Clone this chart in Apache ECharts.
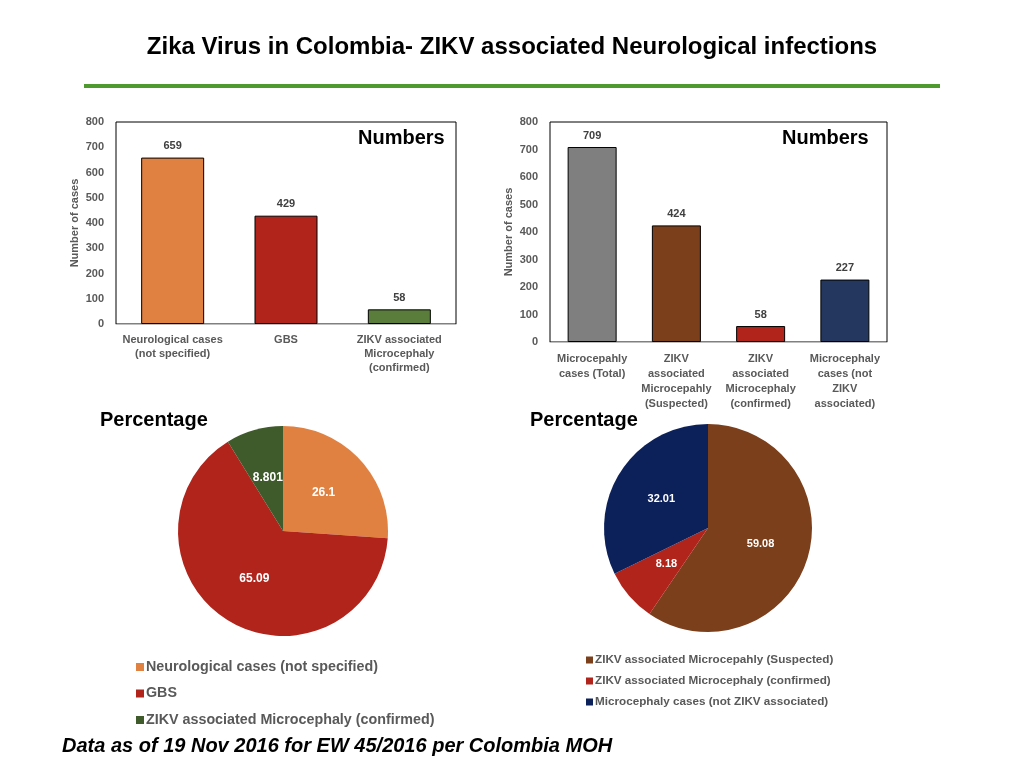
<!DOCTYPE html>
<html>
<head>
<meta charset="utf-8">
<script src="https://cdn.jsdelivr.net/npm/echarts@6/dist/echarts.min.js"></script>
<style>
html, body { margin: 0; padding: 0; background: #fff; }
#main { width: 1024px; height: 768px; }
</style>
</head>
<body>
<div id="main"></div>
<script>
// neurological chart (left)
var neuroCats = ['Neurological cases\n(not specified)', 'GBS', 'ZIKV associated\nMicrocephaly\n(confirmed)'];
var neuroCounts = [659, 429, 58];
var neuroPieNames = ['Neurological cases (not specified)', 'GBS', 'ZIKV associated Microcephaly (confirmed)'];
var neuroPct = [26.1, 65.09, 8.801];

// microcephaly chart (right)
var microCats = ['Microcepahly\ncases (Total)', 'ZIKV\nassociated\nMicrocepahly\n(Suspected)', 'ZIKV\nassociated\nMicrocephaly\n(confirmed)', 'Microcephaly\ncases (not\nZIKV\nassociated)'];
var microCounts = [709, 424, 58, 227];
var microPieNames = ['ZIKV associated Microcepahly (Suspected)', 'ZIKV associated Microcephaly (confirmed)', 'Microcephaly cases (not ZIKV associated)'];
var microPct = [59.08, 8.18, 32.01];

var yTicks = [0, 800, 100]; // min, max, interval

var neuroBarColors = ['#E08142', '#B0241B', '#5B7D3C'];
var neuroPieColors = ['#E08142', '#B0241B', '#3F5A2B'];
var microBarColors = ['#7F7F7F', '#7B3F1C', '#B0241B', '#23375F'];
var microPieColors = ['#7B3F1C', '#B0241B', '#0C205A'];

var FONT = '"Liberation Sans", Arial, Helvetica, sans-serif';
var GRAY = '#595959';

function barData(vals, colors) {
	var out = [];
	for (var i = 0; i < vals.length; i++) {
		out.push({ value: vals[i], itemStyle: { color: colors[i] } });
	}
	return out;
}
function pieData(names, vals, colors) {
	var out = [];
	for (var i = 0; i < vals.length; i++) {
		out.push({ name: names[i], value: vals[i], itemStyle: { color: colors[i] } });
	}
	return out;
}
function legendData(names, colors) {
	var out = [];
	for (var i = 0; i < names.length; i++) {
		out.push({ name: names[i], icon: 'rect', itemStyle: { color: colors[i] } });
	}
	return out;
}
function yAxisOpt(gridIndex) {
	return {
		gridIndex: gridIndex, type: 'value',
		min: yTicks[0], max: yTicks[1], interval: yTicks[2],
		name: 'Number of cases', nameLocation: 'middle', nameGap: 36,
		nameTextStyle: { fontFamily: FONT, fontWeight: 'bold', fontSize: 11, color: GRAY },
		axisLine: { show: false }, axisTick: { show: false }, splitLine: { show: false },
		axisLabel: { margin: 12, fontFamily: FONT, fontWeight: 'bold', fontSize: 11, color: GRAY }
	};
}
function xAxisOpt(gridIndex, cats, lh) {
	return {
		gridIndex: gridIndex, type: 'category', data: cats,
		axisLine: { lineStyle: { color: '#BFBFBF', width: 1 } }, axisTick: { show: false },
		axisLabel: { interval: 0, margin: 9, lineHeight: lh, fontFamily: FONT, fontWeight: 'bold', fontSize: 11, color: GRAY }
	};
}
function heading(text, left, top, size, italic) {
	return { text: text, left: left, top: top, padding: 0,
		textStyle: { fontFamily: FONT, fontWeight: 'bold', fontStyle: italic ? 'italic' : 'normal', fontSize: size, color: '#000' } };
}

var myChart = echarts.init(document.getElementById('main'));
var option = {
	backgroundColor: '#fff',
	animation: false,
	title: [
		heading('Zika Virus in Colombia- ZIKV associated Neurological infections', 'center', 35, 24),
		heading('Numbers', 358, 128, 20),
		heading('Numbers', 782, 128, 20),
		heading('Percentage', 100, 410, 20),
		heading('Percentage', 530, 410, 20),
		heading('Data as of 19 Nov 2016 for EW 45/2016 per Colombia MOH', 62, 736, 20, true)
	],
	graphic: [
		{ type: 'rect', shape: { x: 84, y: 84, width: 856, height: 4 }, style: { fill: '#4E9A2E' } }
	],
	grid: [
		{ left: 116, top: 122, width: 340, height: 202, show: true, borderColor: '#000', borderWidth: 1 },
		{ left: 550, top: 122, width: 337, height: 220, show: true, borderColor: '#000', borderWidth: 1 }
	],
	xAxis: [xAxisOpt(0, neuroCats, 14), xAxisOpt(1, microCats, 15)],
	yAxis: [yAxisOpt(0), yAxisOpt(1)],
	legend: [
		{ orient: 'vertical', left: 131, top: 655, itemWidth: 8, itemHeight: 8, itemGap: 12.5,
			data: legendData(neuroPieNames, neuroPieColors),
			textStyle: { fontFamily: FONT, fontWeight: 'bold', fontSize: 14.3, color: GRAY, padding: [0, 0, 0, -3] } },
		{ orient: 'vertical', left: 581, top: 649, itemWidth: 7, itemHeight: 7, itemGap: 9,
			data: legendData(microPieNames, microPieColors),
			textStyle: { fontFamily: FONT, fontWeight: 'bold', fontSize: 11.7, color: GRAY, padding: [0, 0, 0, -3] } }
	],
	series: [
		{ type: 'bar', xAxisIndex: 0, yAxisIndex: 0, barWidth: 63, data: barData(neuroCounts, neuroBarColors),
			itemStyle: { borderColor: '#000', borderWidth: 1 },
			label: { show: true, position: 'top', distance: 6, fontFamily: FONT, fontWeight: 'bold', fontSize: 11, color: '#404040' } },
		{ type: 'bar', xAxisIndex: 1, yAxisIndex: 1, barWidth: 49, data: barData(microCounts, microBarColors),
			itemStyle: { borderColor: '#000', borderWidth: 1 },
			label: { show: true, position: 'top', distance: 6, fontFamily: FONT, fontWeight: 'bold', fontSize: 11, color: '#404040' } },
		{ type: 'pie', center: [283, 531], radius: 105, startAngle: 90, clockwise: true,
			data: pieData(neuroPieNames, neuroPct, neuroPieColors),
			label: { show: true, position: 'inside', formatter: '{c}', fontFamily: FONT, fontWeight: 'bold', fontSize: 12, color: '#fff' },
			labelLine: { show: false } },
		{ type: 'pie', center: [708, 528], radius: 104, startAngle: 90, clockwise: true,
			data: pieData(microPieNames, microPct, microPieColors),
			label: { show: true, position: 'inside', formatter: '{c}', fontFamily: FONT, fontWeight: 'bold', fontSize: 11, color: '#fff' },
			labelLine: { show: false } }
	]
};
myChart.setOption(option);
</script>
</body>
</html>
